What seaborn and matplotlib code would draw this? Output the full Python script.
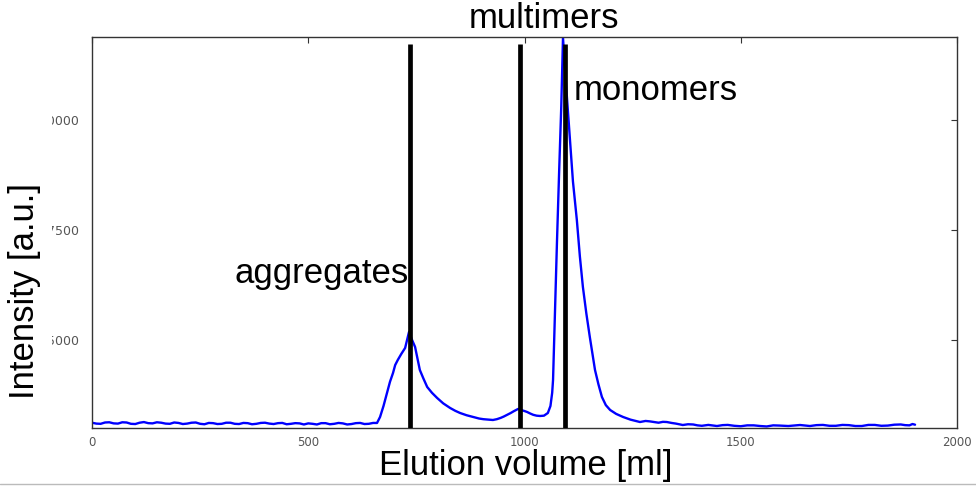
import matplotlib
matplotlib.use("Agg")
import matplotlib.pyplot as plt
import seaborn as sns
import pandas as pd
from matplotlib.patches import Rectangle
from matplotlib.lines import Line2D

# elution profile
volume = [0, 10, 20, 30, 40, 50, 60, 70, 80, 90, 100, 110, 120, 130, 140, 150,
          160, 170, 180, 190, 200, 210, 220, 230, 240, 250, 260, 270, 280, 290,
          300, 310, 320, 330, 340, 350, 360, 370, 380, 390, 400, 410, 420, 430,
          440, 450, 460, 470, 480, 490, 500, 510, 520, 530, 540, 550, 560, 570,
          580, 590, 600, 610, 620, 630, 640, 650, 659, 666, 674, 682, 689, 696,
          701, 707, 715, 724, 733, 740, 747, 752, 758, 766, 775, 786, 798, 812,
          828, 840, 851, 866, 881, 895, 905, 916, 927, 936, 945, 952, 960, 968,
          975, 980, 985, 990, 995, 1000, 1006, 1013, 1020, 1028, 1036, 1045,
          1054, 1060, 1064, 1066, 1070, 1075, 1080, 1085, 1089, 1096, 1104,
          1112, 1121, 1128, 1135, 1143, 1151, 1157, 1163, 1171, 1179, 1188,
          1198, 1212, 1228, 1245, 1267, 1280, 1290, 1300, 1310, 1320, 1329,
          1340, 1350, 1358, 1366, 1378, 1390, 1400, 1410, 1425, 1445, 1458,
          1470, 1485, 1500, 1515, 1530, 1545, 1560, 1575, 1590, 1610, 1637,
          1650, 1660, 1675, 1690, 1705, 1720, 1735, 1750, 1765, 1780, 1795,
          1810, 1825, 1840, 1855, 1870, 1880, 1890, 1897, 1903]
intensity = [3120, 3100, 3095, 3125, 3130, 3105, 3100, 3130, 3125, 3095, 3090,
             3120, 3135, 3110, 3105, 3130, 3120, 3100, 3095, 3125, 3115, 3090,
             3100, 3120, 3125, 3095, 3085, 3115, 3110, 3090, 3095, 3120, 3120,
             3095, 3090, 3115, 3110, 3085, 3095, 3115, 3120, 3100, 3090, 3110,
             3115, 3085, 3095, 3110, 3105, 3080, 3105, 3095, 3080, 3110, 3110,
             3085, 3095, 3115, 3105, 3080, 3090, 3110, 3115, 3090, 3095, 3115,
             3114, 3250, 3500, 3795, 4050, 4250, 4430, 4545, 4680, 4818, 5182,
             5000, 4841, 4600, 4318, 4130, 3932, 3800, 3682, 3560, 3455, 3390,
             3341, 3290, 3250, 3215, 3200, 3190, 3182, 3200, 3230, 3260, 3300,
             3340, 3380, 3405, 3432, 3425, 3400, 3385, 3364, 3330, 3300, 3280,
             3273, 3280, 3341, 3500, 3800, 4091, 5500, 7200, 8800, 10300, 11860,
             10800, 9700, 8600, 7727, 6900, 6205, 5600, 5068, 4700, 4318, 3990,
             3705, 3520, 3409, 3320, 3250, 3190, 3136, 3160, 3150, 3135, 3120,
             3140, 3136, 3115, 3100, 3085, 3068, 3085, 3080, 3060, 3050, 3070,
             3045, 3065, 3070, 3050, 3040, 3060, 3060, 3045, 3035, 3060, 3055,
             3045, 3068, 3055, 3045, 3065, 3070, 3050, 3050, 3070, 3065, 3045,
             3045, 3070, 3070, 3050, 3055, 3075, 3080, 3065, 3060, 3090, 3075]

marker_volumes = [735, 990, 1094]
x_ticks = [0, 500, 1000, 1500, 2000]
y_ticks = [5000, 7500, 10000]

df = pd.DataFrame({"volume": volume, "intensity": intensity})

sns.set_style("white")
plt.rcParams["font.family"] = ["DejaVu Sans"]
plt.rcParams["xtick.direction"] = "in"
plt.rcParams["ytick.direction"] = "in"

fig = plt.figure(figsize=(9.76, 4.88), dpi=100)
ax = fig.add_axes([92 / 976, 60 / 488, 865 / 976, 391 / 488])

sns.lineplot(data=df, x="volume", y="intensity", color="blue", lw=1.7, ax=ax)
ax.vlines(marker_volumes, 3000, 11730, color="black", lw=3.4, zorder=3)

ax.set_xlim(0, 2000)
ax.set_ylim(3000, 11880)
ax.set_xticks(x_ticks)
ax.set_yticks(y_ticks)
ax.tick_params(axis="both", which="both", top=True, right=True, length=4,
               width=0.8, colors="#333333", labelcolor="#555555")
ax.tick_params(axis="x", labelsize=8.5, pad=6)
ax.tick_params(axis="y", labelsize=9, pad=9)
ax.set_xlabel("")
ax.set_ylabel("")
for s in ax.spines.values():
    s.set_color("#333333")
    s.set_linewidth(1.0)

big = dict(family=["Liberation Sans", "DejaVu Sans"], fontsize=25, color="black")
ax.text(732, 6295, "aggregates", ha="right", va="baseline", **big)
ax.text(1045, 12091, "multimers", ha="center", va="baseline", clip_on=False, **big)
ax.text(1114, 10455, "monomers", ha="left", va="baseline", **big)

# left strip covering the cut-off tick labels
fig.patches.append(Rectangle((0, 0), 52 / 976, 1, transform=fig.transFigure,
                             facecolor="white", edgecolor="none", zorder=5))
fig.text(25 / 976, 1 - 291 / 488, "Intensity [a.u.]", rotation=90, ha="center",
         va="center", zorder=6, **big)
fig.text(526 / 976, 1 - 465 / 488, "Elution volume [ml]", ha="center",
         va="center", zorder=6, **big)
fig.lines.append(Line2D([0, 1], [1 - 484 / 488] * 2, transform=fig.transFigure,
                        color="#bbbbbb", lw=1, zorder=7))

fig.savefig("out.png", dpi=100)
